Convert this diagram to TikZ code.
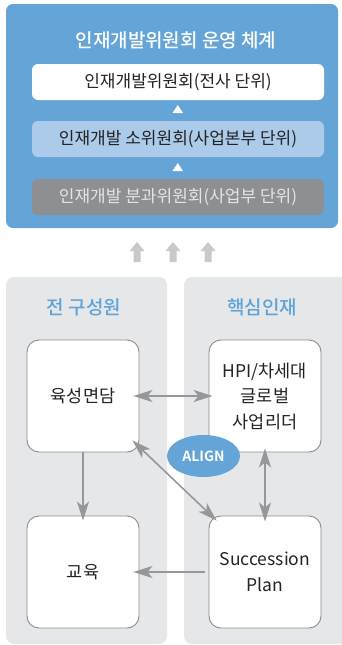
\documentclass[tikz,border=0pt]{standalone}
\usepackage{fontspec}
\setmainfont{Noto Sans CJK KR}
\newfontfamily\krbold{Noto Sans CJK KR Bold}
\newfontfamily\krmed{Noto Sans CJK KR Medium}
\usetikzlibrary{arrows.meta,shapes.geometric}
\definecolor{topblue}{RGB}{100,164,214}
\definecolor{lightblue}{RGB}{172,202,233}
\definecolor{midgray}{RGB}{142,143,147}
\definecolor{panelgray}{RGB}{230,231,233}
\definecolor{uparrow}{RGB}{200,201,203}
\definecolor{conngray}{RGB}{150,151,154}
\definecolor{bordergray}{RGB}{140,140,142}
\definecolor{titleblue}{RGB}{93,163,217}
\definecolor{txt}{RGB}{35,35,35}
\begin{document}
\begin{tikzpicture}[x=1pt,y=1pt,
  layer/.style={rounded corners=6pt, minimum width=292pt, minimum height=36pt, inner sep=0pt, font=\fontsize{17}{20}\selectfont},
  box/.style={draw=bordergray, line width=0.9pt, fill=white, rounded corners=12pt, minimum width=112pt, minimum height=112pt, inner sep=0pt, align=center, text=txt, font=\fontsize{17.5}{25.5}\selectfont},
  conn/.style={draw=conngray, line width=1.6pt, {Stealth[length=19pt,width=12pt,inset=5pt]}-{Stealth[length=19pt,width=12pt,inset=5pt]}},
  oneway/.style={draw=conngray, line width=1.6pt, -{Stealth[length=19pt,width=12pt,inset=5pt]}},
  ptitle/.style={text=titleblue, font=\krmed\fontsize{19}{22}\selectfont}
]
\clip (0,0) rectangle (342,-645);
% top panel
\fill[topblue, rounded corners=7pt] (6,-4) rectangle (338,-228);
\node[text=white, font=\krmed\fontsize{19}{22}\selectfont] (title) at (176,-40) {인재개발위원회 운영 체계};
\node[layer, fill=white, text=txt] (l1) at (178,-82) {인재개발위원회(전사 단위)};
\node[layer, fill=lightblue, text=txt] (l2) at (178,-139) {인재개발 소위원회(사업본부 단위)};
\node[layer, fill=midgray, text={rgb,255:red,228;green,228;blue,230}] (l3) at (178,-197) {인재개발 분과위원회(사업부 단위)};
\fill[white] (172.5,-113) -- (183,-113) -- (177.75,-105) -- cycle;
\fill[white] (172.5,-171) -- (183,-171) -- (177.75,-163) -- cycle;
% up arrows
\foreach \cx in {137,173,208}{
  \fill[uparrow] (\cx-3.5,-262) -- (\cx+3.5,-262) -- (\cx+3.5,-251) -- (\cx+7.5,-251) -- (\cx,-242) -- (\cx-7.5,-251) -- (\cx-3.5,-251) -- cycle;
}
% panels
\fill[panelgray, rounded corners=8pt] (6,-277) rectangle (167,-644);
\fill[panelgray, rounded corners=8pt] (184,-277) rectangle (352,-644);
\node[ptitle] (t1) at (84,-307) {전 구성원};
\node[ptitle] (t2) at (262,-307) {핵심인재};
% boxes
\node[box] (ysm) at (83,-396) {육성면담};
\node[box] (hpi) at (265,-396) {HPI/차세대\\글로벌\\사업리더};
\node[box] (edu) at (83,-572) {교육};
\node[box] (sp) at (265,-572) {Succession\\Plan};
% connectors
\draw[conn] ([xshift=-6pt]ysm.east) -- ([xshift=4pt]hpi.west);
\draw[oneway] (ysm.south) -- ([yshift=-5pt]edu.north);
\draw[conn] ([shift={(-7pt,12pt)}]ysm.south east) -- ([shift={(8pt,-5pt)}]sp.north west);
\draw[conn] ([yshift=4pt]hpi.south) -- ([yshift=-6pt]sp.north);
\draw[oneway] ([xshift=-4pt]sp.west) -- ([xshift=-6pt]edu.east);
% ALIGN
\node[ellipse, fill=topblue, minimum width=73pt, minimum height=42pt, inner sep=0pt, text=white, font=\krbold\fontsize{14}{16}\selectfont] (align) at (203.5,-456) {ALIGN};
\end{tikzpicture}
\end{document}
